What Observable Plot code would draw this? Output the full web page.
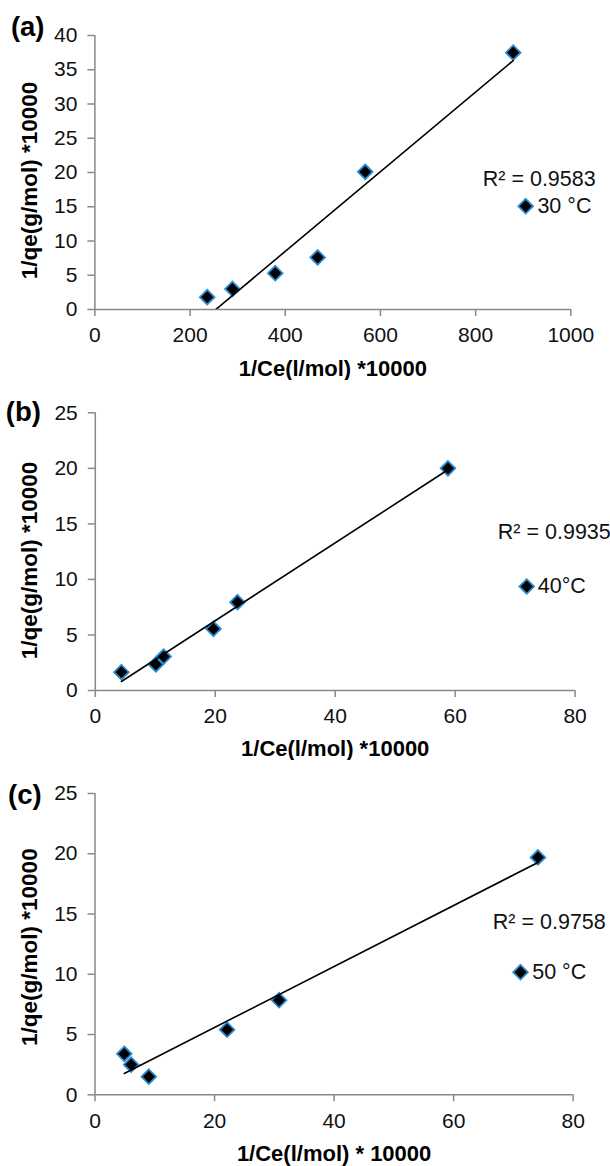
<!DOCTYPE html>
<html>
<head>
<meta charset="utf-8">
<script src="https://cdn.jsdelivr.net/npm/d3@7"></script>
<script src="https://cdn.jsdelivr.net/npm/@observablehq/plot@0.6"></script>
<style>
  html, body { margin: 0; padding: 0; background: #fff; }
  #chart { width: 610px; }
  #chart svg { display: block; }
</style>
</head>
<body>
<div id="chart"></div>
<script>
// Linearised isotherm data: 1/Ce (l/mol) ×10000 against 1/qe (g/mol) ×10000
// (a) 30 °C
const xA = [236, 289, 379, 468, 568, 879];
const yA = [1.8, 3.0, 5.3, 7.6, 20.1, 37.5];
// (b) 40 °C
const xB = [4.35, 10.1, 11.4, 19.7, 23.7, 58.8];
const yB = [1.65, 2.35, 3.05, 5.55, 7.95, 20.0];
// (c) 50 °C
const xC = [4.9, 6.05, 9.0, 22.1, 30.8, 74.1];
const yC = [3.4, 2.5, 1.5, 5.4, 7.85, 19.7];

const xTicksA = [0, 200, 400, 600, 800, 1000];
const yTicksA = [0, 5, 10, 15, 20, 25, 30, 35, 40];
const xTicksBC = [0, 20, 40, 60, 80];
const yTicksBC = [0, 5, 10, 15, 20, 25];

const tags = ["(a)", "(b)", "(c)"];
const r2Labels = ["R² = 0.9583", "R² = 0.9935", "R² = 0.9758"];
const seriesLabels = ["30 °C", "40°C", "50 °C"];
const xTitles = ["1/Ce(l/mol) *10000", "1/Ce(l/mol) *10000", "1/Ce(l/mol) * 10000"];
const yTitle = "1/qe(g/mol) *10000";

const FONT = "'Liberation Sans', Arial, Helvetica, sans-serif";
const AXIS_GRAY = "#898989";
const TEXT = "#111";
const MARKER_FILL = "#000";
const MARKER_STROKE = "#2a8bd0";

function panel(p) {
  const rows = p.xs.map((x, i) => ({x, y: p.ys[i]}));
  const marker = {symbol: "diamond2", r: 6.6, fill: MARKER_FILL, stroke: MARKER_STROKE, strokeWidth: 1.8};
  return Plot.plot({
    width: 610,
    height: p.height,
    marginTop: p.m[0],
    marginRight: p.m[1],
    marginBottom: p.m[2],
    marginLeft: p.m[3],
    style: {fontFamily: FONT, fontSize: "21px", color: TEXT, background: "#fff"},
    x: {domain: [p.xTicks[0], p.xTicks[p.xTicks.length - 1]], label: null},
    y: {domain: [p.yTicks[0], p.yTicks[p.yTicks.length - 1]], label: null},
    marks: [
      Plot.axisX(p.xTicks, {
        tickSize: 7, tickPadding: 11, tickFormat: d => String(d),
        stroke: AXIS_GRAY, strokeWidth: 1.5, fill: TEXT, fontSize: 21, label: null
      }),
      Plot.axisY(p.yTicks, {
        tickSize: 7, tickPadding: 10.5, tickFormat: d => String(d),
        stroke: AXIS_GRAY, strokeWidth: 1.5, fill: TEXT, fontSize: 21, label: null
      }),
      Plot.ruleY([0], {stroke: AXIS_GRAY, strokeWidth: 1.5}),
      Plot.ruleX([0], {stroke: AXIS_GRAY, strokeWidth: 1.5}),
      Plot.dot(rows, {x: "x", y: "y", ...marker}),
      Plot.linearRegressionY(rows, {x: "x", y: "y", ci: 0, stroke: "#000", strokeWidth: 1.6, clip: true}),
      // panel tag
      Plot.text([p.tag], {frameAnchor: "top-left", dx: p.tagPos[0], dy: p.tagPos[1],
        textAnchor: "start", lineAnchor: "middle", fontWeight: "bold", fontSize: 27.5, fill: "#000"}),
      // R² of the linear fit
      Plot.text([p.r2], {frameAnchor: "top-right", dx: p.r2Pos[0], dy: p.r2Pos[1],
        textAnchor: p.r2Pos[2], lineAnchor: "middle", fontSize: 21.5, fill: TEXT}),
      // series key
      Plot.dot([p.series], {frameAnchor: "top-right", dx: p.keyPos[0], dy: p.keyPos[2], ...marker}),
      Plot.text([p.series], {frameAnchor: "top-right", dx: p.keyPos[1], dy: p.keyPos[2],
        textAnchor: "start", lineAnchor: "middle", fontSize: 21.5, fill: TEXT}),
      // axis titles
      Plot.text([p.xTitle], {frameAnchor: "bottom", dy: p.xTitleDy,
        textAnchor: "middle", lineAnchor: "middle", fontWeight: "bold", fontSize: 22, fill: "#000"}),
      Plot.text([yTitle], {frameAnchor: "left", dx: p.yTitlePos[0], dy: p.yTitlePos[1], rotate: -90,
        textAnchor: "middle", lineAnchor: "middle", fontWeight: "bold", fontSize: 22.5, fill: "#000"})
    ]
  });
}

const chart = document.getElementById("chart");
chart.append(panel({
  xs: xA, ys: yA, xTicks: xTicksA, yTicks: yTicksA,
  height: 380, m: [35, 39.7, 71, 94.4],
  tag: tags[0], tagPos: [-84, -8],
  r2: r2Labels[0], r2Pos: [24.9, 143.3, "end"],
  series: seriesLabels[0], keyPos: [-45.1, -33.4, 170.7],
  xTitle: xTitles[0], xTitleDy: 59, yTitlePos: [-65.4, 8]
}));
chart.append(panel({
  xs: xB, ys: yB, xTicks: xTicksBC, yTicks: yTicksBC,
  height: 380, m: [32.3, 35.4, 70, 94.8],
  tag: tags[1], tagPos: [-89.5, -0.6],
  r2: r2Labels[1], r2Pos: [-77.3, 119.7, "start"],
  series: seriesLabels[1], keyPos: [-48.4, -37.3, 173.7],
  xTitle: xTitles[1], xTitleDy: 58.3, yTitlePos: [-65.8, 8.8]
}));
chart.append(panel({
  xs: xC, ys: yC, xTicks: xTicksBC, yTicks: yTicksBC,
  height: 406, m: [33, 37.3, 71.7, 94.5],
  tag: tags[2], tagPos: [-87, 2],
  r2: r2Labels[2], r2Pos: [-80.4, 129, "start"],
  series: seriesLabels[2], keyPos: [-52.7, -41, 178.7],
  xTitle: xTitles[2], xTitleDy: 59, yTitlePos: [-65.5, 3]
}));
</script>
</body>
</html>
